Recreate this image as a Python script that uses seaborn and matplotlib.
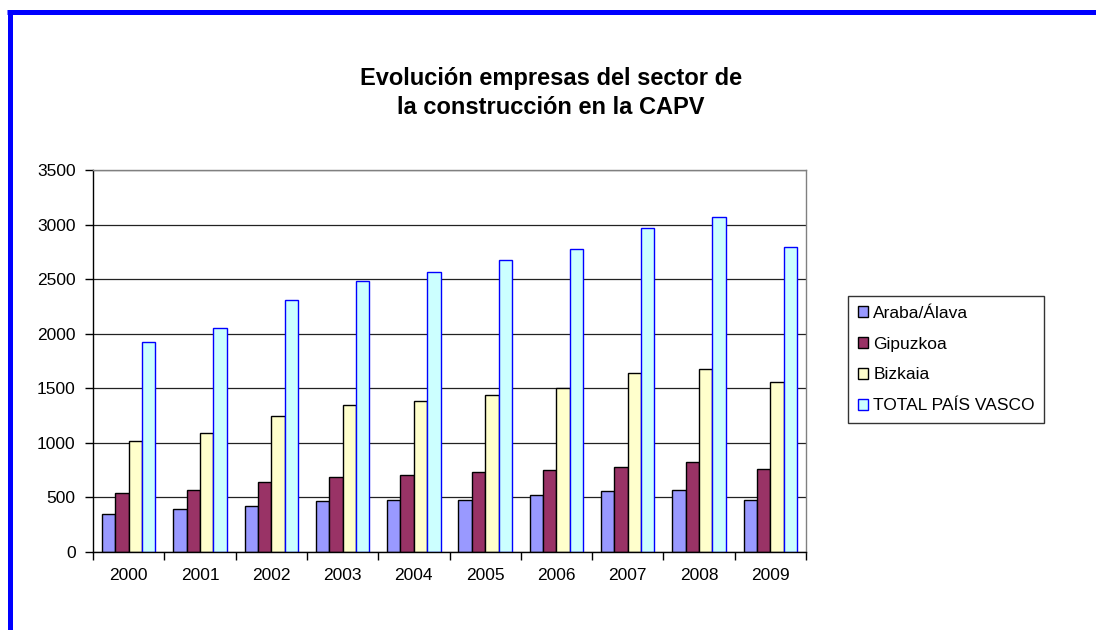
#importing packages
import pandas as pd
import seaborn as sns
import matplotlib.pyplot as plt
from matplotlib.patches import Patch
from matplotlib.lines import Line2D

#data
years = ['2000', '2001', '2002', '2003', '2004', '2005', '2006', '2007', '2008', '2009']
araba = [345, 390, 420, 463, 480, 480, 524, 555, 570, 480]
gipuzkoa = [542, 570, 643, 688, 707, 734, 750, 780, 825, 765]
bizkaia = [1017, 1094, 1243, 1346, 1380, 1438, 1499, 1636, 1679, 1560]
total = [1920, 2054, 2313, 2486, 2562, 2672, 2773, 2968, 3071, 2791]
series = ['Araba/Álava', 'Gipuzkoa', 'Bizkaia', 'TOTAL PAÍS VASCO']
colors = ['#9999FF', '#993366', '#FFFFCC', '#CCFFFF']
edges = ['black', 'black', 'black', '#0000FF']
yticks = [0, 500, 1000, 1500, 2000, 2500, 3000, 3500]
title = 'Evolución empresas del sector de\nla construcción en la CAPV'

df = pd.DataFrame({'year': years, series[0]: araba, series[1]: gipuzkoa,
                   series[2]: bizkaia, series[3]: total})
long_df = df.melt(id_vars='year', var_name='serie', value_name='empresas')

sns.set_style('white')
plt.rcParams['font.family'] = ['Liberation Sans', 'DejaVu Sans']
plt.rcParams['text.color'] = 'black'
plt.rcParams['xtick.color'] = 'black'
plt.rcParams['ytick.color'] = 'black'

fig = plt.figure(figsize=(10.96, 6.3), dpi=100)
ax = fig.add_axes([93 / 1096, 1 - 552 / 630, (806 - 93) / 1096, (552 - 170) / 630])

sns.barplot(data=long_df, x='year', y='empresas', hue='serie', hue_order=series,
            palette=colors, width=0.75, edgecolor='black', linewidth=1.0,
            saturation=1, ax=ax, legend=False)

#blue outline for the total bars
for cont, ec in zip(ax.containers, edges):
    for bar in cont:
        bar.set_edgecolor(ec)

ax.set_xlim(-0.5, len(years) - 0.5)
ax.set_ylim(0, 3500)
ax.set_yticks(yticks)
ax.set_xlabel('')
ax.set_ylabel('')
ax.yaxis.grid(True, color='#222222', linewidth=0.9)
ax.set_axisbelow(True)

#ticks between the year groups
ax.set_xticks([i + 0.5 for i in range(-1, len(years))], minor=True)
ax.tick_params(axis='x', which='major', length=0, labelsize=12.5, pad=11.5, labelcolor='black')
ax.tick_params(axis='x', which='minor', bottom=True, length=6, width=1, color='black', direction='out')
ax.tick_params(axis='y', left=True, length=6, width=1, color='black', direction='out',
               labelsize=12.5, pad=6.5, labelcolor='black')

for side in ['left', 'bottom']:
    ax.spines[side].set_color('black')
    ax.spines[side].set_linewidth(1)
for side in ['top', 'right']:
    ax.spines[side].set_color('#808080')
    ax.spines[side].set_linewidth(1)

fig.text(551 / 1096, 1 - 93 / 630, title, ha='center', va='center', color='black',
         fontsize=17, fontweight='bold', linespacing=1.32)

handles = [Patch(facecolor=c, edgecolor=e, linewidth=1) for c, e in zip(colors, edges)]
leg = fig.legend(handles, series, loc='upper left', bbox_to_anchor=(848 / 1096, 1 - 296 / 630),
                 frameon=True, fancybox=False, fontsize=12.5, handlelength=0.6,
                 handleheight=0.6, handletextpad=0.3, labelspacing=0.92, borderpad=0.55,
                 borderaxespad=0)
leg.get_frame().set_edgecolor('black')
leg.get_frame().set_linewidth(1)

#blue frame around the sheet
fig.add_artist(Line2D([7 / 1096, 1], [1 - 12 / 630, 1 - 12 / 630], color='#0000FF',
                      linewidth=3.6, solid_capstyle='butt', transform=fig.transFigure))
fig.add_artist(Line2D([9.5 / 1096, 9.5 / 1096], [0, 1 - 10 / 630], color='#0000FF',
                      linewidth=3.6, solid_capstyle='butt', transform=fig.transFigure))

plt.savefig('out.png', dpi=100)
